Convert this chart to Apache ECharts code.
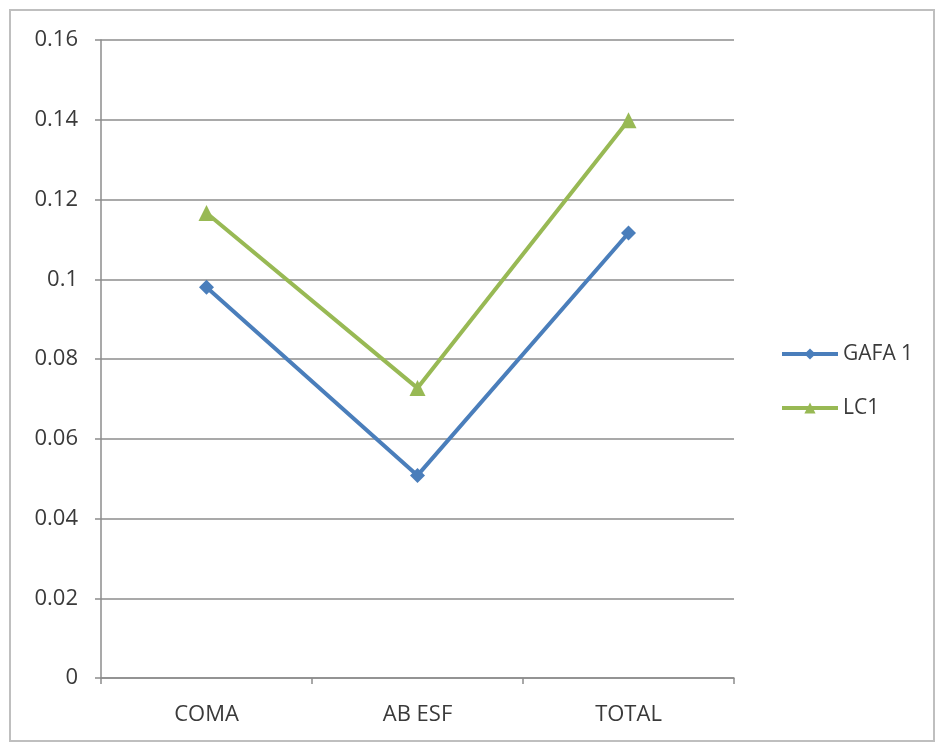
<!DOCTYPE html>
<html>
<head>
<meta charset="utf-8">
<script src="https://cdn.jsdelivr.net/npm/echarts@6/dist/echarts.min.js"></script>
<style>
html,body{margin:0;padding:0;background:#fff;}
#chart{width:936px;height:744px;}
</style>
</head>
<body>
<div id="chart"></div>
<script>
const categories = ['COMA', 'AB ESF', 'TOTAL'];
const gafa1 = [0.098, 0.0508, 0.1116];
const lc1 = [0.1166, 0.0727, 0.1399];
const yTicks = { min: 0, max: 0.16, interval: 0.02 };

const chart = echarts.init(document.getElementById('chart'));
const font = 'Open Sans, Noto Sans, sans-serif';
const textColor = '#3a3a3a';
chart.setOption({
  animation: false,
  backgroundColor: '#ffffff',
  graphic: [{
    type: 'rect',
    shape: { x: 10, y: 10, width: 924, height: 731 },
    style: { fill: 'none', stroke: '#bfbfbf', lineWidth: 2 },
    silent: true
  }],
  grid: { left: 101, right: 202, top: 40, bottom: 66, containLabel: false },
  legend: {
    orient: 'vertical',
    left: 775,
    top: 337,
    itemWidth: 56,
    itemHeight: 14,
    itemGap: 30,
    lineStyle: { width: 4 },
    textStyle: { fontFamily: font, fontSize: 21, color: textColor, lineHeight: 24 },
    data: ['GAFA 1', 'LC1']
  },
  xAxis: {
    type: 'category',
    data: categories,
    boundaryGap: true,
    axisLine: { lineStyle: { color: '#8c8c8c', width: 1.5 } },
    axisTick: { show: true, inside: false, length: 6, lineStyle: { color: '#8c8c8c', width: 1.5 } },
    axisLabel: { fontFamily: font, fontSize: 22, color: textColor, margin: 26 }
  },
  yAxis: {
    type: 'value',
    min: yTicks.min,
    max: yTicks.max,
    interval: yTicks.interval,
    axisLine: { show: true, lineStyle: { color: '#8c8c8c', width: 1.5 } },
    axisTick: { show: true, inside: false, length: 6, lineStyle: { color: '#8c8c8c', width: 1.5 } },
    splitLine: { show: true, lineStyle: { color: '#8c8c8c', width: 1.5 } },
    axisLabel: {
      fontFamily: font, fontSize: 22, color: textColor, margin: 23,
      formatter: function (v) { return v === 0 ? '0' : String(parseFloat(v.toFixed(2))); }
    }
  },
  series: [
    {
      name: 'GAFA 1',
      type: 'line',
      data: gafa1,
      symbol: 'diamond',
      symbolSize: 15,
      lineStyle: { color: '#4a7ebb', width: 4 },
      itemStyle: { color: '#4a7ebb' }
    },
    {
      name: 'LC1',
      type: 'line',
      data: lc1,
      symbol: 'triangle',
      symbolSize: 16,
      lineStyle: { color: '#98b954', width: 4 },
      itemStyle: { color: '#98b954' }
    }
  ]
});
</script>
</body>
</html>
